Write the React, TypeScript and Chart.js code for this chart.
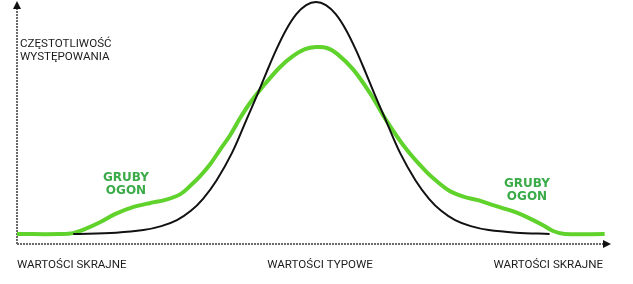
import React, { useEffect, useRef } from "react";
import { Chart, registerables } from "chart.js";

Chart.register(...registerables);

// Normal distribution (black) – x in sigma-like units, y in % of normal peak
const NORMAL_X = [-4.19, -3.45, -2.98, -2.67, -2.4, -2.16, -1.95, -1.72, -1.45, -1.21, -1.03, -0.86, -0.69, -0.52, -0.34, -0.17, 0, 0.17, 0.34, 0.52, 0.69, 0.86, 1.03, 1.21, 1.45, 1.72, 1.95, 2.16, 2.4, 2.67, 2.98, 3.45, 4.03];
const NORMAL_Y = [0, 0.6, 1.7, 3.4, 6.0, 10.0, 15.2, 23.0, 35.0, 48.7, 59.1, 69.4, 79.3, 87.9, 94.8, 98.7, 100, 98.7, 94.8, 87.9, 79.3, 69.4, 59.1, 48.7, 35.0, 23.0, 15.2, 10.0, 6.0, 3.4, 1.7, 0.6, 0];

// Fat-tailed distribution (green)
const FAT_X = [-5.16, -4.41, -4.19, -3.98, -3.72, -3.47, -3.16, -2.86, -2.6, -2.34, -2.17, -2.0, -1.83, -1.66, -1.48, -1.31, -1.14, -0.91, -0.62, -0.4, -0.19, 0, 0.19, 0.36, 0.64, 0.93, 1.22, 1.57, 1.91, 2.14, 2.31, 2.57, 2.78, 3.0, 3.22, 3.43, 3.64, 3.91, 4.09, 4.29, 4.98];
const FAT_Y = [0, 0, 0.4, 2.2, 5.2, 8.6, 11.6, 13.4, 14.7, 17.2, 20.8, 25.0, 30.0, 36.2, 42.7, 50.0, 56.5, 63.8, 72.0, 76.7, 79.7, 80.6, 80.2, 77.8, 71.0, 60.8, 48.7, 36.2, 26.7, 21.6, 18.5, 15.9, 14.7, 12.9, 11.2, 9.5, 7.3, 3.9, 1.3, 0, 0];

const Y_AXIS_TITLE = ["CZĘSTOTLIWOŚĆ", "WYSTĘPOWANIA"];
const TAIL_LABEL = ["GRUBY", "OGON"];
const X_LABELS = ["WARTOŚCI SKRAJNE", "WARTOŚCI TYPOWE", "WARTOŚCI SKRAJNE"];

const X_MIN = -5.16;
const X_MAX = 5.09;
const Y_MIN = -4.3;
const Y_MAX = 100.9;

const LINE_GREEN = "#5fd22c";
const TEXT_GREEN = "#3aab48";
const TEXT_DARK = "#1c1c1c";

const axesPlugin = {
  id: "axesArrows",
  beforeDatasetsDraw(chart: any) {
    const { ctx, chartArea } = chart;
    const left = chartArea.left;
    const bottom = chartArea.bottom;
    ctx.save();
    ctx.strokeStyle = "#6a6a6a";
    ctx.lineWidth = 2;
    ctx.setLineDash([2, 1]);
    ctx.beginPath();
    ctx.moveTo(left, bottom);
    ctx.lineTo(chartArea.right - 4, bottom);
    ctx.moveTo(left, bottom);
    ctx.lineTo(left, chartArea.top + 6);
    ctx.stroke();
    ctx.setLineDash([]);
    ctx.fillStyle = "#111";
    ctx.beginPath();
    ctx.moveTo(chartArea.right, bottom);
    ctx.lineTo(chartArea.right - 8, bottom - 4);
    ctx.lineTo(chartArea.right - 8, bottom + 4);
    ctx.closePath();
    ctx.fill();
    ctx.beginPath();
    ctx.moveTo(left, chartArea.top + 1);
    ctx.lineTo(left - 4, chartArea.top + 9);
    ctx.lineTo(left + 4, chartArea.top + 9);
    ctx.closePath();
    ctx.fill();
    ctx.restore();
  },
};

const labelsPlugin = {
  id: "textLabels",
  afterDraw(chart: any) {
    const { ctx, chartArea } = chart;
    const xs = chart.scales.x;
    const left = chartArea.left;
    ctx.save();
    ctx.textBaseline = "middle";
    ctx.fillStyle = TEXT_DARK;
    ctx.font = "11.6px Roboto, 'Liberation Sans', sans-serif";
    ctx.textAlign = "left";
    ctx.fillText(Y_AXIS_TITLE[0], left + 3, 44);
    ctx.fillText(Y_AXIS_TITLE[1], left + 3, 57);

    const by = chartArea.bottom + 21;
    ctx.textAlign = "left";
    ctx.fillText(X_LABELS[0], left, by);
    ctx.textAlign = "center";
    ctx.fillText(X_LABELS[1], xs.getPixelForValue(0) + 4, by);
    ctx.textAlign = "right";
    ctx.fillText(X_LABELS[2], chartArea.right - 8, by);

    ctx.fillStyle = TEXT_GREEN;
    ctx.font = "bold 12px 'DejaVu Sans', sans-serif";
    ctx.textAlign = "center";
    ctx.fillText(TAIL_LABEL[0], 126, 178);
    ctx.fillText(TAIL_LABEL[1], 126, 191);
    ctx.fillText(TAIL_LABEL[0], 527, 184);
    ctx.fillText(TAIL_LABEL[1], 527, 197);
    ctx.restore();
  },
};

export default function App() {
  const canvasRef = useRef<HTMLCanvasElement | null>(null);

  useEffect(() => {
    if (!canvasRef.current) return;
    const normal = NORMAL_X.map((x, i) => ({ x, y: NORMAL_Y[i] }));
    const fat = FAT_X.map((x, i) => ({ x, y: FAT_Y[i] }));
    const chart = new Chart(canvasRef.current, {
      type: "line",
      data: {
        datasets: [
          {
            label: "Rozkład normalny",
            data: normal,
            borderColor: "#111111",
            borderWidth: 2,
            pointRadius: 0,
            tension: 0.35,
            fill: false,
          },
          {
            label: "Gruby ogon",
            data: fat,
            borderColor: LINE_GREEN,
            borderWidth: 4,
            pointRadius: 0,
            tension: 0.35,
            fill: false,
          },
        ],
      },
      options: {
        animation: false,
        responsive: false,
        devicePixelRatio: 1,
        layout: { padding: { left: 17, right: 22, top: 0, bottom: 40 } },
        plugins: { legend: { display: false }, tooltip: { enabled: false } },
        scales: {
          x: { type: "linear", min: X_MIN, max: X_MAX, display: false },
          y: { type: "linear", min: Y_MIN, max: Y_MAX, display: false },
        },
      },
      plugins: [axesPlugin, labelsPlugin],
    } as any);
    return () => chart.destroy();
  }, []);

  return (
    <div style={{ position: "absolute", left: 0, top: 0, width: 633, height: 284, background: "#fff" }}>
      <canvas ref={canvasRef} width={633} height={284} style={{ width: 633, height: 284 }} />
    </div>
  );
}
